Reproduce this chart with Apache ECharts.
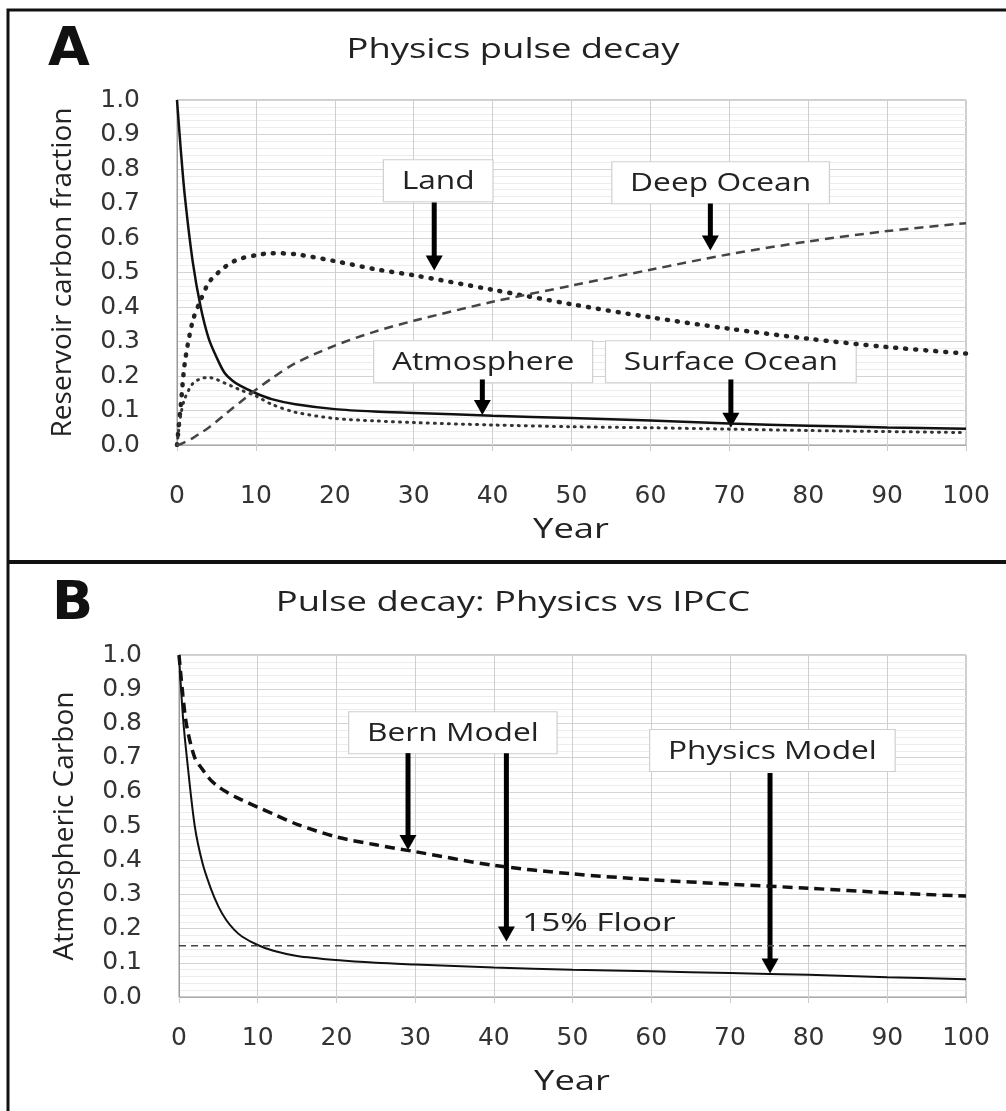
<!DOCTYPE html>
<html>
<head>
<meta charset="utf-8">
<script src="https://cdn.jsdelivr.net/npm/echarts@6/dist/echarts.min.js"></script>
<style>
html, body { margin: 0; padding: 0; background: #fff; }
#chart { width: 1006px; height: 1111px; }
</style>
</head>
<body>
<div id="chart"></div>
<script>
// years shared by both panels
var years = [0, 0.5, 1, 2, 3, 4, 5, 6, 7, 8, 10, 12, 15, 20, 25, 30, 40, 50, 60, 70, 80, 90, 100];

// panel A reservoirs
var atmosphereA = [1.0, 0.85, 0.72, 0.53, 0.40, 0.31, 0.255, 0.21, 0.187, 0.172, 0.15, 0.133, 0.118, 0.104, 0.097, 0.093, 0.085, 0.078, 0.071, 0.062, 0.056, 0.051, 0.047];
var landA = [0, 0.12, 0.24, 0.36, 0.42, 0.47, 0.495, 0.515, 0.53, 0.54, 0.55, 0.556, 0.553, 0.533, 0.51, 0.492, 0.45, 0.408, 0.37, 0.337, 0.308, 0.284, 0.265];
var surfaceA = [0, 0.09, 0.135, 0.178, 0.192, 0.196, 0.19, 0.18, 0.17, 0.16, 0.142, 0.118, 0.095, 0.077, 0.07, 0.065, 0.058, 0.053, 0.05, 0.046, 0.042, 0.039, 0.036];
var deepA = [0, 0.003, 0.008, 0.02, 0.035, 0.05, 0.068, 0.087, 0.106, 0.124, 0.16, 0.193, 0.237, 0.288, 0.328, 0.36, 0.415, 0.462, 0.508, 0.553, 0.59, 0.62, 0.643];

// panel B models
var physicsB = [1.0, 0.82, 0.70, 0.50, 0.39, 0.32, 0.265, 0.225, 0.197, 0.177, 0.152, 0.135, 0.12, 0.108, 0.1, 0.095, 0.086, 0.08, 0.075, 0.07, 0.065, 0.058, 0.052];
var bernB = [1.0, 0.88, 0.79, 0.70, 0.665, 0.635, 0.615, 0.6, 0.587, 0.576, 0.555, 0.535, 0.505, 0.468, 0.445, 0.425, 0.385, 0.36, 0.343, 0.33, 0.318, 0.305, 0.295];
var floorB = 0.15;

var xTicks = [0, 10, 20, 30, 40, 50, 60, 70, 80, 90, 100];
var yTicks = [0, 0.1, 0.2, 0.3, 0.4, 0.5, 0.6, 0.7, 0.8, 0.9, 1.0];

// callout boxes: [text, year, value] (box centre)
var labelsA = [['Land', 33.1, 0.766], ['Deep Ocean', 68.9, 0.76], ['Atmosphere', 38.8, 0.241], ['Surface Ocean', 70.2, 0.241]];
var labelsB = [['Bern Model', 34.8, 0.773], ['Physics Model', 75.4, 0.721]];
// arrows: [year, from, tip]
var arrowsA = [[32.6, 0.703, 0.506], [67.6, 0.70, 0.564], [38.7, 0.19, 0.087], [70.2, 0.19, 0.05]];
var arrowsB = [[29.1, 0.713, 0.43], [41.6, 0.713, 0.162], [75.1, 0.655, 0.069]];
// floor note: [text, year, value] (left edge, middle)
var floorNote = ['15% Floor', 43.6, 0.216];

function pairs(v) {
    var out = [];
    for (var i = 0; i < years.length; i++) { out.push([years[i], v[i]]); }
    return out;
}

var tickFont = 'DejaVu Sans';
var textFont = 'Open Sans';

function makeX(idx, margin) {
    return {
        type: 'value', gridIndex: idx, min: xTicks[0], max: xTicks[xTicks.length - 1], interval: 10,
        axisLine: { show: true, lineStyle: { color: '#aaa', width: 1 } },
        axisTick: { show: true, length: 6, lineStyle: { color: '#ccc' } },
        axisLabel: { fontFamily: tickFont, fontSize: 25, color: '#333', margin: margin },
        splitLine: { show: true, lineStyle: { color: '#cfcfcf', width: 1 } }
    };
}

function makeY(idx, name) {
    return {
        type: 'value', gridIndex: idx, min: yTicks[0], max: yTicks[yTicks.length - 1], interval: 0.1,
        name: name, nameLocation: 'middle', nameGap: 100,
        nameTextStyle: { fontFamily: textFont, fontSize: 28, color: '#222' },
        axisLine: { show: true, lineStyle: { color: '#999', width: 1 } },
        axisTick: { show: false },
        axisLabel: { fontFamily: tickFont, fontSize: 25, color: '#333', margin: 37,
            formatter: function (v) { return v.toFixed(1); } },
        splitLine: { show: true, lineStyle: { color: '#d4d4d4', width: 1 } },
        minorTick: { show: false, splitNumber: 5 },
        minorSplitLine: { show: true, lineStyle: { color: '#ececec', width: 1 } }
    };
}

var chart = echarts.init(document.getElementById('chart'));

var option = {
    animation: false,
    backgroundColor: '#fff',
    grid: [
        { left: 177, top: 100, width: 789, height: 345, show: true, borderColor: '#999', borderWidth: 1 },
        { left: 179, top: 655, width: 787, height: 342, show: true, borderColor: '#999', borderWidth: 1 }
    ],
    xAxis: [makeX(0, 39), makeX(1, 29)],
    yAxis: [makeY(0, 'Reservoir carbon fraction'), makeY(1, 'Atmospheric Carbon')],
    series: [
        { name: 'Atmosphere', type: 'line', xAxisIndex: 0, yAxisIndex: 0, data: pairs(atmosphereA), smooth: 0.3,
          showSymbol: false, lineStyle: { color: '#111', width: 2.5 } },
        { name: 'Land', type: 'line', xAxisIndex: 0, yAxisIndex: 0, data: pairs(landA), smooth: 0.3,
          showSymbol: false, lineStyle: { color: '#222', width: 4.5, type: [1, 9], cap: 'round' } },
        { name: 'Surface Ocean', type: 'line', xAxisIndex: 0, yAxisIndex: 0, data: pairs(surfaceA), smooth: 0.3,
          showSymbol: false, lineStyle: { color: '#333', width: 3, type: [1, 6], cap: 'round' } },
        { name: 'Deep Ocean', type: 'line', xAxisIndex: 0, yAxisIndex: 0, data: pairs(deepA), smooth: 0.3,
          showSymbol: false, lineStyle: { color: '#444', width: 2.5, type: [9, 6] } },
        { name: 'Physics Model', type: 'line', xAxisIndex: 1, yAxisIndex: 1, data: pairs(physicsB), smooth: 0.3,
          showSymbol: false, lineStyle: { color: '#111', width: 2 } },
        { name: 'Bern Model', type: 'line', xAxisIndex: 1, yAxisIndex: 1, data: pairs(bernB), smooth: 0.3,
          showSymbol: false, lineStyle: { color: '#111', width: 3.5, type: [10, 6] } },
        { name: '15% Floor', type: 'line', xAxisIndex: 1, yAxisIndex: 1,
          data: [[xTicks[0], floorB], [xTicks[xTicks.length - 1], floorB]],
          showSymbol: false, lineStyle: { color: '#444', width: 1.5, type: [7, 5] } }
    ]
};

chart.setOption(option);

// text in the source figure is stretched sideways, so scale it with graphic elements
var measure = document.createElement('canvas').getContext('2d');
function textWidth(t, font) {
    measure.font = font;
    return measure.measureText(t).width;
}

function stretchedText(t, x, y, size, sx, align) {
    return { type: 'text', x: x, y: y, scaleX: sx, originX: 0, originY: 0, z: 20,
        style: { text: t, font: size + 'px "Open Sans"', fill: '#222', align: align || 'center', verticalAlign: 'middle' } };
}

function calloutBox(d, grid) {
    var p = chart.convertToPixel({ gridIndex: grid }, [d[1], d[2]]);
    var w = textWidth(d[0], '26px "Open Sans"') + 30;
    var h = 42;
    return { type: 'group', x: p[0], y: p[1], scaleX: 1.22, z: 15, children: [
        { type: 'rect', shape: { x: -w / 2, y: -h / 2, width: w, height: h },
          style: { fill: '#fff', stroke: '#d0d0d0', lineWidth: 1 } },
        { type: 'text', x: 0, y: 1, style: { text: d[0], font: '26px "Open Sans"', fill: '#222',
            align: 'center', verticalAlign: 'middle' } }
    ] };
}

function arrow(d, grid) {
    var a = chart.convertToPixel({ gridIndex: grid }, [d[0], d[1]]);
    var b = chart.convertToPixel({ gridIndex: grid }, [d[0], d[2]]);
    var head = 15;
    return { type: 'group', z: 18, children: [
        { type: 'line', shape: { x1: a[0], y1: a[1], x2: b[0], y2: b[1] - head + 1 },
          style: { stroke: '#000', lineWidth: 5 } },
        { type: 'polygon', shape: { points: [[b[0] - 8.5, b[1] - head], [b[0] + 8.5, b[1] - head], [b[0], b[1]]] },
          style: { fill: '#000' } }
    ] };
}

var graphics = [
    { type: 'rect', shape: { x: 8, y: 10, width: 1010, height: 1120 }, style: { fill: 'none', stroke: '#111', lineWidth: 3 } },
    { type: 'line', shape: { x1: 8, y1: 562, x2: 1006, y2: 562 }, style: { stroke: '#111', lineWidth: 4 } },
    { type: 'text', left: 48, top: 24, style: { text: 'A', font: 'bold 54px "DejaVu Sans"', fill: '#111',
        shadowColor: 'rgba(0,0,0,0.4)', shadowBlur: 3, shadowOffsetX: 2, shadowOffsetY: 2 } },
    { type: 'text', left: 52, top: 578, style: { text: 'B', font: 'bold 54px "DejaVu Sans"', fill: '#111',
        shadowColor: 'rgba(0,0,0,0.4)', shadowBlur: 3, shadowOffsetX: 2, shadowOffsetY: 2 } },
    stretchedText('Physics pulse decay', 513, 50, 28, 1.3),
    stretchedText('Pulse decay: Physics vs IPCC', 513, 603, 28, 1.3),
    stretchedText('Year', 571, 530, 28, 1.3),
    stretchedText('Year', 572, 1082, 28, 1.3)
];

labelsA.forEach(function (d) { graphics.push(calloutBox(d, 0)); });
labelsB.forEach(function (d) { graphics.push(calloutBox(d, 1)); });
arrowsA.forEach(function (d) { graphics.push(arrow(d, 0)); });
arrowsB.forEach(function (d) { graphics.push(arrow(d, 1)); });

var fp = chart.convertToPixel({ gridIndex: 1 }, [floorNote[1], floorNote[2]]);
graphics.push(stretchedText(floorNote[0], fp[0], fp[1], 26, 1.28, 'left'));

chart.setOption({ graphic: graphics });
</script>
</body>
</html>
